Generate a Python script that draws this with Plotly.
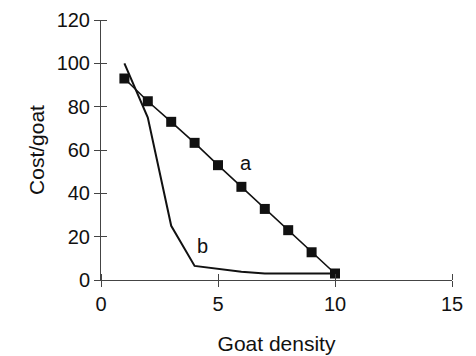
import plotly.graph_objects as go

# Data
a_x = [1, 2, 3, 4, 5, 6, 7, 8, 9, 10]
a_y = [93, 82.5, 73, 63.3, 53, 43, 32.8, 23, 12.8, 3]
b_x = [1, 2, 3, 4, 6, 7, 10]
b_y = [100, 75, 25, 6.5, 3.8, 3, 3]
x_ticks = [0, 5, 10, 15]
y_ticks = [0, 20, 40, 60, 80, 100, 120]
label_a = (6.2, 54, "a")
label_b = (4.35, 15.5, "b")

FONT = "Liberation Sans, Arial, sans-serif"

fig = go.Figure()
fig.add_trace(go.Scatter(x=b_x, y=b_y, mode="lines",
                         line=dict(color="#111", width=2),
                         showlegend=False))
fig.add_trace(go.Scatter(x=a_x, y=a_y, mode="lines+markers",
                         line=dict(color="#111", width=1.6),
                         marker=dict(symbol="square", size=10, color="#111"),
                         showlegend=False))

for lx, ly, t in [label_a, label_b]:
    fig.add_annotation(x=lx, y=ly, text=t, showarrow=False,
                       font=dict(size=20, color="#111", family=FONT))

axis_common = dict(showgrid=False, zeroline=False, showline=True,
                   linecolor="#444", linewidth=1, tickcolor="#444",
                   tickwidth=1, automargin=False)

fig.update_layout(
    width=468, height=348,
    margin=dict(l=93, r=24, t=12, b=76),
    plot_bgcolor="white", paper_bgcolor="white",
    font=dict(family=FONT, size=20, color="#111"),
    xaxis=dict(range=[0, 15], tickvals=x_ticks, ticks="outside", ticklen=6,
               minor=dict(tickvals=x_ticks, ticks="inside", ticklen=6,
                          tickcolor="#444", tickwidth=1),
               title=dict(text="Goat density", standoff=22,
                          font=dict(size=21)),
               **axis_common),
    yaxis=dict(range=[0, 120], tickvals=y_ticks, ticks="outside", ticklen=6,
               minor=dict(tickvals=y_ticks, ticks="inside", ticklen=6,
                          tickcolor="#444", tickwidth=1),
               title=dict(text="Cost/goat", standoff=6,
                          font=dict(size=21)),
               **axis_common),
)

fig.write_html("out.html")
